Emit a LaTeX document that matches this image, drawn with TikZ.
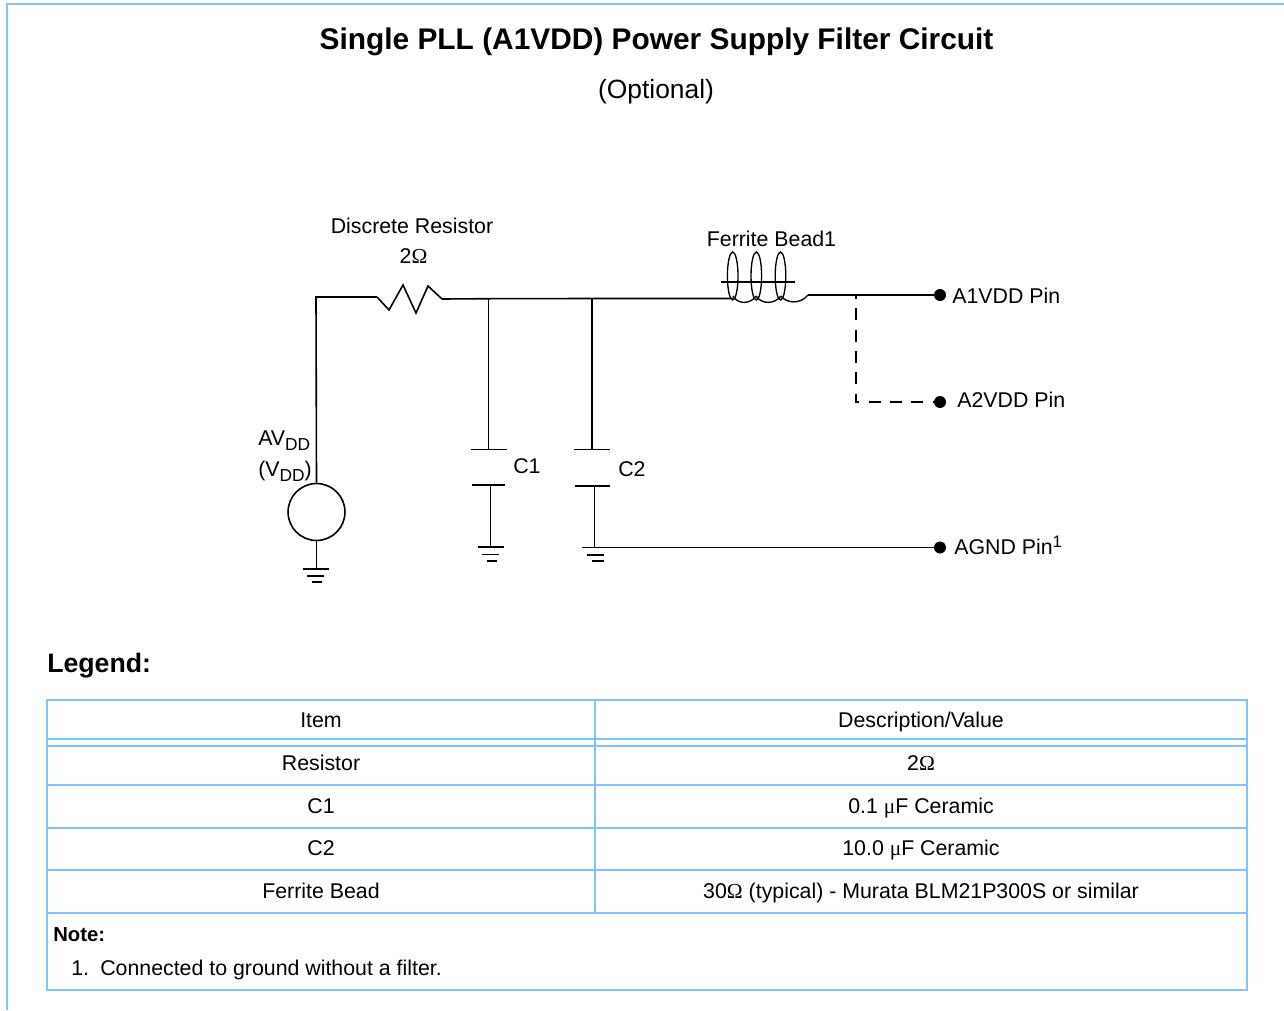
\documentclass[tikz,border=0pt]{standalone}
\usepackage{fontspec}
\setmainfont{Liberation Sans}
\newfontfamily\greekfont{Liberation Serif}
\newcommand{\ohms}{{\greekfont Ω}}
\newcommand{\micro}{{\greekfont μ}}
\newcommand{\lowtext}[1]{\raisebox{-0.45ex}{\fontsize{13pt}{14pt}\selectfont #1}}
\newcommand{\hightext}[1]{\raisebox{0.62ex}{\fontsize{12.5pt}{14pt}\selectfont #1}}
\definecolor{framecolor}{HTML}{80C4FF}
\tikzset{
  wire/.style={draw=black, line width=1.2pt},
  beadline/.style={draw=black, line width=1pt},
  framing/.style={draw=framecolor, line width=1.3pt},
  pindot/.style={circle, fill=black, inner sep=0pt, minimum size=9pt},
  txt/.style={font=\fontsize{16pt}{18pt}\selectfont, anchor=base, inner sep=0pt},
  txtleft/.style={txt, anchor=base west}
}

\begin{document}
\begin{tikzpicture}[x=0.75pt, y=-0.75pt]
    \useasboundingbox (0,0) rectangle (1284,1010);

    % Outer Frame
    \draw[framing] (7,1010) -- (7,4) -- (1284,4);

    % Headers
    \node[txt, font=\bfseries\fontsize{22.4pt}{26pt}\selectfont] (title) at (656.5,49) {Single PLL (A1VDD) Power Supply Filter Circuit};
    \node[txt, font=\fontsize{19.8pt}{24pt}\selectfont] (subtitle) at (656,98) {(Optional)};

    % Circuit Points
    \coordinate (corner) at (316,297);
    \coordinate (resin) at (377,297);
    \coordinate (resout) at (442,299);
    \coordinate (jointa) at (488.5,298.7);
    \coordinate (jointb) at (592,298.5);
    \coordinate (beadin) at (733,298.5);
    \coordinate (beadout) at (808,295);
    \coordinate (jointc) at (855.7,295);
    \coordinate (bend) at (855.7,402);
    \coordinate (gndwire) at (608,547.5);

    % Pins
    \node[pindot] (a1vdd) at (940,295) {};
    \node[pindot] (a2vdd) at (940,402) {};
    \node[pindot] (agnd) at (940,547.5) {};
    \node[txtleft] (a1text) at (952,303) {A1VDD Pin};
    \node[txtleft] (a2text) at (957,407) {A2VDD Pin};
    \node[txtleft] (agndtext) at (954,554) {AGND Pin\hightext{1}};

    % Source
    \node[circle, wire, inner sep=0pt, minimum size=42.7pt] (source) at (316.5,512) {};
    \node[txtleft] (avdd) at (258,445) {AV\lowtext{DD}};
    \node[txtleft] (vdd) at (258,476) {(V\lowtext{DD})};
    \draw[wire] (source.north) -- (corner) -- (resin);
    \draw[wire] (source.south) -- ++(0,27.5);
    \draw[wire] (303,569) -- (329,569);
    \draw[wire] (307,576) -- (324,576);
    \draw[wire] (312,582) -- (322,582);

    % Resistor
    \draw[wire] (resin) -- (389,310) -- (403,285) -- (416,313) -- (428,286) -- (resout);
    \node[txt] (restext) at (412,233) {Discrete Resistor};
    \node[txt] (resvalue) at (413.5,263) {2\ohms};

    % Main Line
    \draw[wire] (resout) -- (jointa) -- (jointb) -- (beadin);
    \draw[wire] (beadout) -- (jointc) -- (a1vdd);
    \draw[wire, dash pattern=on 9pt off 7pt, dash phase=6pt] (jointc) -- (bend) -- (a2vdd);

    % Capacitor C1
    \draw[wire] (jointa) -- (488.5,449.5);
    \draw[wire] (471,449.5) -- (507,449.5);
    \draw[wire] (472,485) -- (505,485);
    \draw[wire] (490.5,485) -- (490.5,547);
    \draw[wire] (478,547) -- (504,547);
    \draw[wire] (482,554.5) -- (499,554.5);
    \draw[wire] (487,561) -- (497,561);
    \node[txtleft] (c1text) at (513,473) {C1};

    % Capacitor C2
    \draw[wire] (jointb) -- (592,449.5);
    \draw[wire] (573.5,449.5) -- (610,449.5);
    \draw[wire] (575,486) -- (610,486);
    \draw[wire] (594.5,486) -- (594.5,547.5);
    \draw[wire] (582,547.5) -- (608,547.5);
    \draw[wire] (587,555) -- (604,555);
    \draw[wire] (592,561) -- (604,561);
    \draw[wire] (gndwire) -- (agnd);
    \node[txtleft] (c2text) at (618,476) {C2};

    % Ferrite Bead
    \draw[beadline] (732.7,276) ellipse [x radius=5.3, y radius=24];
    \draw[beadline] (756.3,276) ellipse [x radius=5.3, y radius=24];
    \draw[beadline] (780.5,276) ellipse [x radius=5.3, y radius=24];
    \draw[beadline] (721,282) -- (795,282);
    \draw[beadline] (733,296) .. controls (738,305) and (751,304) .. (756,296);
    \draw[beadline] (756,296) .. controls (762,305) and (775,304) .. (781,296);
    \draw[beadline] (781,296) .. controls (786,303) and (800,305) .. (beadout);
    \node[txt] (beadtext) at (771.5,246) {Ferrite Bead1};

    % Legend
    \node[txtleft, font=\bfseries\fontsize{20pt}{22pt}\selectfont] (legend) at (47,672) {Legend:};

    % Table Lines
    \draw[framing] (47,699.7) rectangle (1247,990);
    \draw[framing] (47,739) -- (1247,739);
    \draw[framing] (47,745.7) -- (1247,745.7);
    \draw[framing] (47,785) -- (1247,785);
    \draw[framing] (47,827.7) -- (1247,827.7);
    \draw[framing] (47,870) -- (1247,870);
    \draw[framing] (47,913) -- (1247,913);
    \draw[framing] (595,699.7) -- (595,913);

    % Table Values
    \node[txt] (itemhead) at (321,727) {Item};
    \node[txt] (deschead) at (921,727) {Description/Value};
    \node[txt] (itemres) at (321,770) {Resistor};
    \node[txt] (descres) at (921,770) {2\ohms};
    \node[txt] (itemca) at (321,813) {C1};
    \node[txt] (descca) at (921,813) {0.1 \micro F Ceramic};
    \node[txt] (itemcb) at (321,855) {C2};
    \node[txt] (desccb) at (921,855) {10.0 \micro F Ceramic};
    \node[txt] (itembead) at (321,898) {Ferrite Bead};
    \node[txt] (descbead) at (921,898) {30\ohms{} (typical) - Murata BLM21P300S or similar};

    % Table Note
    \node[txtleft, font=\bfseries\fontsize{15.2pt}{18pt}\selectfont] (notehead) at (53,941) {Note:};
    \node[txtleft] (noteone) at (71,975) {1.};
    \node[txtleft] (notetext) at (100,975) {Connected to ground without a filter.};
\end{tikzpicture}
\end{document}
